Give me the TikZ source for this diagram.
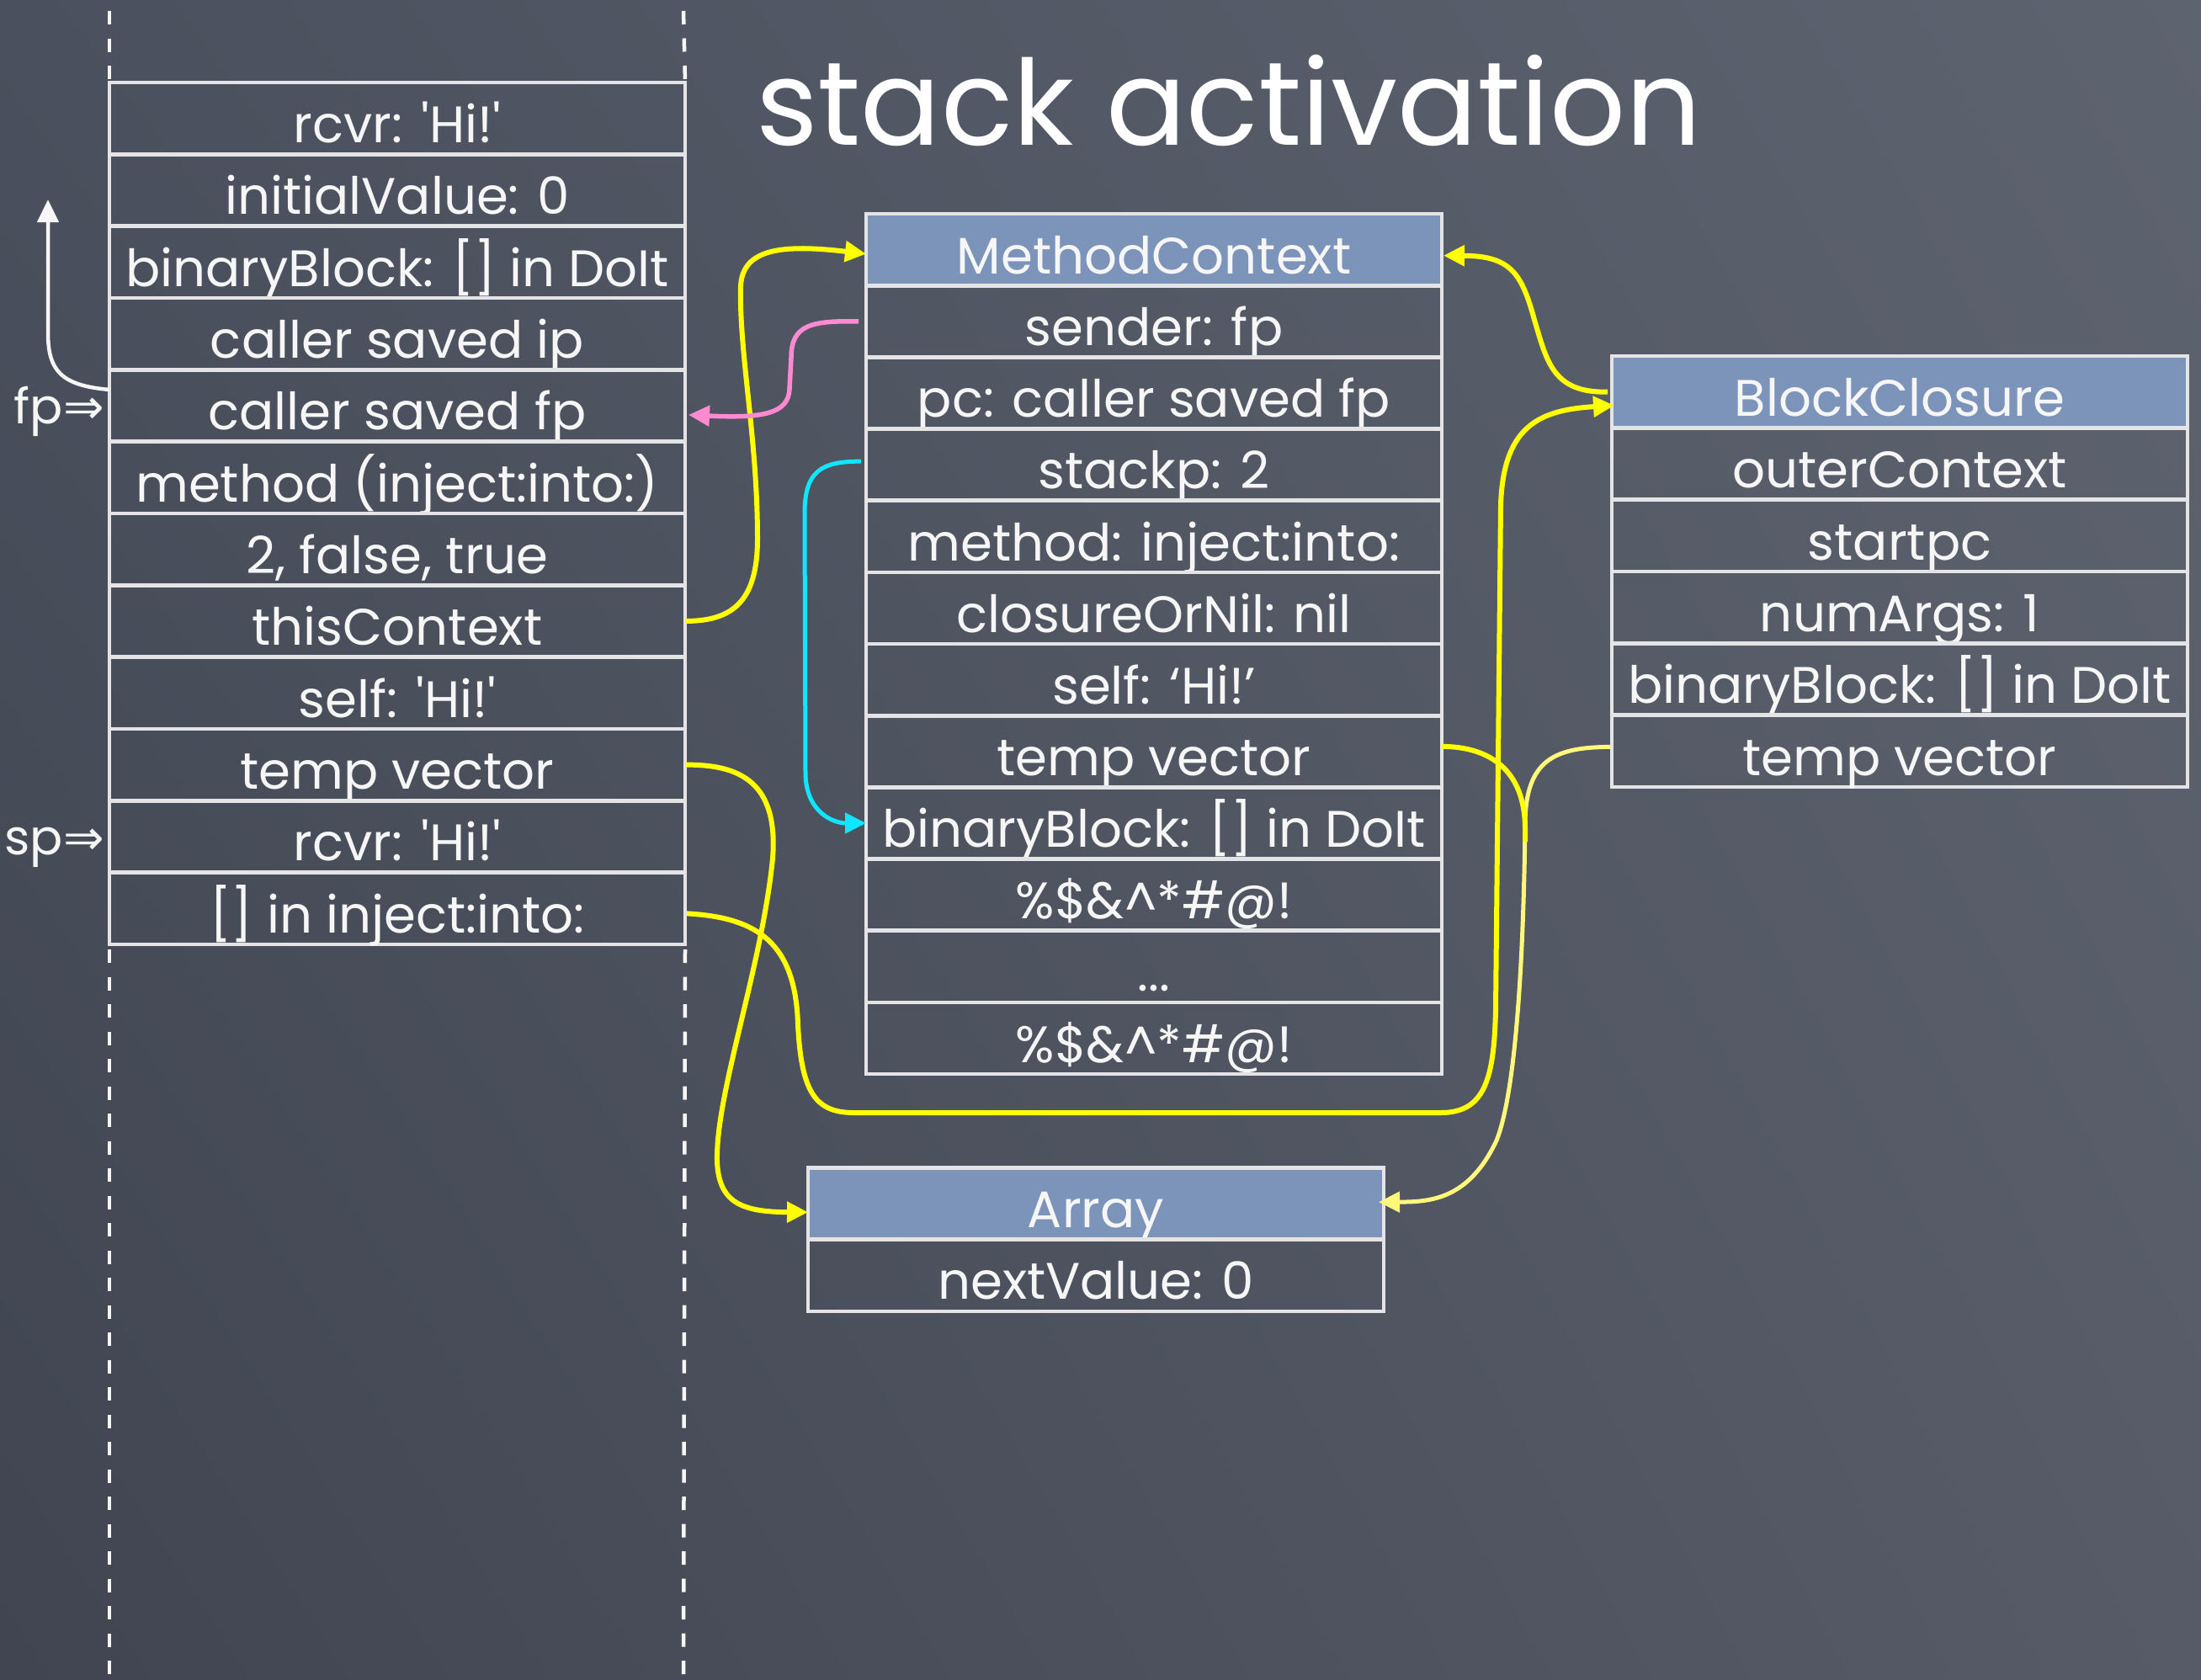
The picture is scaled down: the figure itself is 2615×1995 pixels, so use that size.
\documentclass[tikz,border=0pt]{standalone}
\usepackage{fontspec}
% plain family: no TeX ligature mapping, so ' stays a straight quote
\newfontfamily\chalkfont{Poppins}
\newfontfamily\symfont{DejaVu Sans}
\usetikzlibrary{arrows.meta,calc,shadings}

\definecolor{boardUL}{HTML}{4A505D}
\definecolor{boardUR}{HTML}{5E6370}
\definecolor{boardLL}{HTML}{404551}
\definecolor{boardLR}{HTML}{565B67}
\definecolor{cellline}{HTML}{E4E4E6}
\definecolor{hdrblue}{HTML}{7C94BA}
\definecolor{chalk}{HTML}{F6F6F6}
\definecolor{linkyellow}{HTML}{FFFF00}
\definecolor{paleyellow}{HTML}{FFF87A}
\definecolor{linkpink}{HTML}{FF8AD2}
\definecolor{linkcyan}{HTML}{10E6FF}

\newcommand\cellsize{\chalkfont\fontsize{61}{72}\selectfont}
\newcommand\labelsize{\chalkfont\fontsize{58}{66}\selectfont}
\newcommand\titlesize{\chalkfont\fontsize{141}{170}\selectfont}

\begin{document}
\begin{tikzpicture}[x=1pt,y=-1pt,
  cell/.style={draw=cellline, line width=4.5pt, minimum width=684pt,
    minimum height=85.3pt, inner sep=0pt, outer sep=0pt, anchor=north west,
    text=chalk, font=\cellsize, text height=60pt, text depth=2.7pt},
  hdr/.style={cell, fill=hdrblue},
  sidelabel/.style={anchor=base east, text=chalk, font=\labelsize, inner sep=0pt},
  guide/.style={draw=chalk, line width=4.5pt, dash pattern=on 16pt off 16.5pt},
  link/.style={draw=linkyellow, line width=6pt,
    -{Triangle[length=25pt,width=24pt]}},
  joinlink/.style={draw=linkyellow, line width=6pt},
  palelink/.style={draw=paleyellow, line width=5pt,
    -{Triangle[length=25pt,width=24pt]}},
  pinklink/.style={draw=linkpink, line width=5.5pt,
    -{Triangle[length=25pt,width=24pt]}},
  cyanlink/.style={draw=linkcyan, line width=5pt,
    -{Triangle[length=25pt,width=24pt]}},
  chalkarrow/.style={draw=chalk, line width=4.5pt,
    -{Triangle[length=27pt,width=25pt]}}
]
\useasboundingbox (0,0) rectangle (2615,1995);
\shade[upper left=boardUL, upper right=boardUR, lower left=boardLL,
  lower right=boardLR] (0,0) rectangle (2615,1995);

% title
\node[anchor=base, text=white, font=\titlesize, inner sep=0pt] (title)
  at (1460,172) {stack activation};

% the stack
\node[cell] (s1)  at (130,98)     {rcvr: 'Hi!'};
\node[cell] (s2)  at (130,183.3)  {initialValue: 0};
\node[cell] (s3)  at (130,268.7)  {binaryBlock: [] in DoIt};
\node[cell] (s4)  at (130,354)    {caller saved ip};
\node[cell] (s5)  at (130,439.3)  {caller saved fp};
\node[cell] (s6)  at (130,524.7)  {method (inject:into:)};
\node[cell] (s7)  at (130,610)    {2, false, true};
\node[cell] (s8)  at (130,695.3)  {thisContext};
\node[cell] (s9)  at (130,780.7)  {self: 'Hi!'};
\node[cell] (s10) at (130,866)    {temp vector};
\node[cell] (s11) at (130,951.3)  {rcvr: 'Hi!'};
\node[cell] (s12) at (130,1036.7) {[] in inject:into:};

% dashed continuation of the stack
\coordinate (topL) at (130,13);
\coordinate (topR) at (812,13);
\coordinate (botL) at (130,1995);
\coordinate (botR) at (812,1995);
\draw[guide] (topL) -- (s1.north west);
\draw[guide] (topR) -- (s1.north east);
\draw[guide] ($(s12.south west)+(0,6)$) -- (botL);
\draw[guide] ($(s12.south east)+(0,6)$) -- (botR);

% frame and stack pointers
\node[sidelabel] (fp) at (124,503) {fp{\symfont\fontsize{58}{60}\selectfont ⇒}};
\node[sidelabel] (sp) at (124,1015) {sp{\symfont\fontsize{58}{60}\selectfont ⇒}};
\coordinate (upTip) at (57,237);
\draw[chalkarrow] ($(s5.west)+(0,-19)$) .. controls (72,458) and (57,440) ..
  (57,395) -- (upTip);

% MethodContext
\node[hdr]  (m0)  at (1029,254)    {MethodContext};
\node[cell] (m1)  at (1029,339.2)  {sender: fp};
\node[cell] (m2)  at (1029,424.3)  {pc: caller saved fp};
\node[cell] (m3)  at (1029,509.5)  {stackp: 2};
\node[cell] (m4)  at (1029,594.7)  {method: inject:into:};
\node[cell] (m5)  at (1029,679.8)  {closureOrNil: nil};
\node[cell] (m6)  at (1029,765)    {self: ‘Hi!’};
\node[cell] (m7)  at (1029,850.2)  {temp vector};
\node[cell] (m8)  at (1029,935.3)  {binaryBlock: [] in DoIt};
\node[cell] (m9)  at (1029,1020.5) {\%\$\&\^{}*\#@!};
\node[cell] (m10) at (1029,1105.7) {...};
\node[cell] (m11) at (1029,1190.8) {\%\$\&\^{}*\#@!};

% BlockClosure
\node[hdr]  (b0) at (1915,423)    {BlockClosure};
\node[cell] (b1) at (1915,508.3)  {outerContext};
\node[cell] (b2) at (1915,593.7)  {startpc};
\node[cell] (b3) at (1915,679)    {numArgs: 1};
\node[cell] (b4) at (1915,764.3)  {binaryBlock: [] in DoIt};
\node[cell] (b5) at (1915,849.7)  {temp vector};

% Array
\node[hdr]  (a0) at (960,1387.5) {Array};
\node[cell] (a1) at (960,1472.5) {nextValue: 0};

% references
\draw[link] (s8.east) .. controls (870,738) and (900,715) .. (900,640)
  .. controls (900,520) and (878,420) .. (880,340)
  .. controls (882,295) and (930,290) .. ($(m0.west)+(0,5)$);

\draw[pinklink] ($(m1.west)+(-9,0)$) .. controls (965,381) and (940,385) ..
  (940,425) -- (938,462) .. controls (937,492) and (905,497) ..
  ($(s5.east)+(4,11)$);

\draw[cyanlink] ($(m3.west)+(-6,-4)$) .. controls (975,548) and (956,560) ..
  (956,610) -- (957,920) .. controls (958,965) and (990,978) .. (m8.west);

\draw[link] (s10.east) .. controls (880,908) and (925,930) .. (918,1020)
  .. controls (905,1150) and (850,1300) .. (852,1380)
  .. controls (854,1428) and (880,1440) .. ($(a0.west)+(0,10)$);

\draw[link] ($(s12.east)+(2,6)$) .. controls (900,1090) and (945,1120) ..
  (948,1217) .. controls (952,1300) and (970,1322) .. (1015,1322)
  -- (1712,1322) .. controls (1765,1322) and (1775,1280) .. (1777,1200)
  -- (1783,600) .. controls (1786,505) and (1830,487) .. ($(b0.west)+(3,16)$);

\draw[link] ($(b0.west)+(-5,0)$) .. controls (1845,467) and (1838,430) ..
  (1823,380) .. controls (1808,325) and (1795,304) .. ($(m0.east)+(2,7)$);

\draw[palelink] ($(b5.west)+(-2,-5)$) .. controls (1850,888) and (1812,900) ..
  (1812,980) .. controls (1810,1150) and (1800,1300) .. (1778,1355)
  .. controls (1745,1425) and (1700,1428) .. ($(a0.east)+(-6,-2)$);

\coordinate (join) at (1812,1000);
\draw[joinlink] ($(m7.east)+(0,-6)$) .. controls (1770,887) and (1812,915) ..
  (1812,985) -- (join);
\end{tikzpicture}
\end{document}
